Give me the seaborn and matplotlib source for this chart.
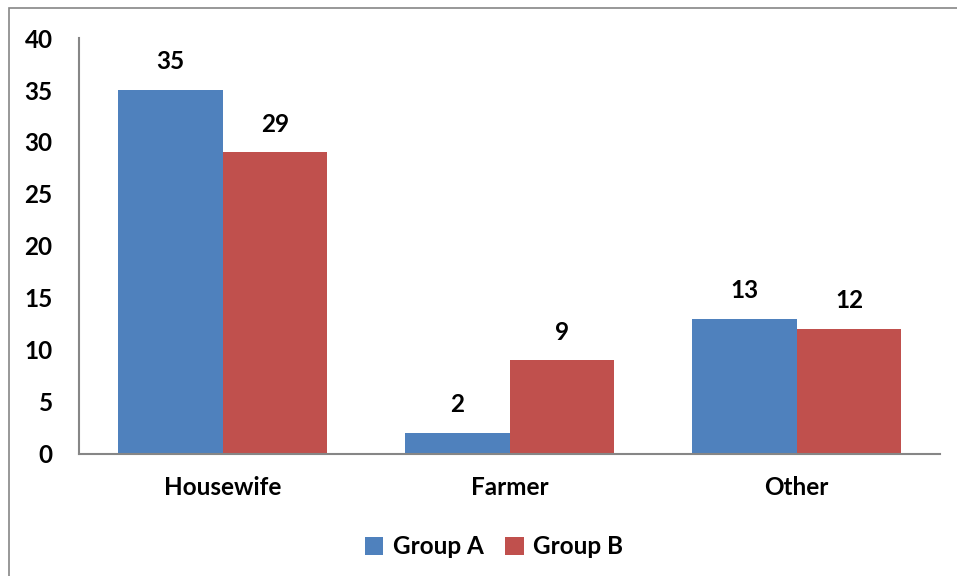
import seaborn as sns
import matplotlib.pyplot as plt
import pandas as pd
from matplotlib.patches import Rectangle

categories = ['Housewife', 'Farmer', 'Other']
group_a = [35, 2, 13]
group_b = [29, 9, 12]
groups = ['Group A', 'Group B']

df = pd.DataFrame({
    'category': categories * 2,
    'count': group_a + group_b,
    'group': [groups[0]] * 3 + [groups[1]] * 3,
})

sns.set_style('white')
plt.rcParams['font.family'] = ['Lato', 'DejaVu Sans']
plt.rcParams['font.weight'] = 'bold'
plt.rcParams['text.color'] = 'black'
plt.rcParams['xtick.color'] = 'black'
plt.rcParams['ytick.color'] = 'black'

FS = 17.5

fig = plt.figure(figsize=(9.57, 5.76), dpi=100)
ax = fig.add_axes([0.0825, 0.212, 0.9, 0.722])

sns.barplot(data=df, x='category', y='count', hue='group', order=categories,
            hue_order=groups, palette=['#4F81BD', '#C0504D'], width=0.73,
            saturation=1, linewidth=0, ax=ax, legend=True)

for cont in ax.containers:
    ax.bar_label(cont, padding=12, fontsize=FS, fontweight='bold')

ax.set_ylim(0, 40)
ax.set_yticks(range(0, 41, 5))
ax.set_xlabel('')
ax.set_ylabel('')
ax.tick_params(axis='both', labelsize=FS, length=0)
ax.tick_params(axis='y', pad=19)
ax.tick_params(axis='x', pad=16)
for lab in ax.get_xticklabels() + ax.get_yticklabels():
    lab.set_fontweight('bold')
for s in ['top', 'right']:
    ax.spines[s].set_visible(False)
for s in ['left', 'bottom']:
    ax.spines[s].set_color('#868686')
    ax.spines[s].set_linewidth(1.5)

ax.legend(loc='upper center', bbox_to_anchor=(0.482, -0.143), ncol=2, frameon=False,
          prop={'size': FS, 'weight': 'bold'}, handlelength=0.75, handleheight=0.75,
          handletextpad=0.4, columnspacing=0.9)

fig.patches.append(Rectangle((9 / 957, -0.1), 1.1, 1 - 8 / 576 + 0.1,
                             transform=fig.transFigure, fill=False,
                             edgecolor='#868686', linewidth=1.2))

fig.savefig('out.png', dpi=100)
